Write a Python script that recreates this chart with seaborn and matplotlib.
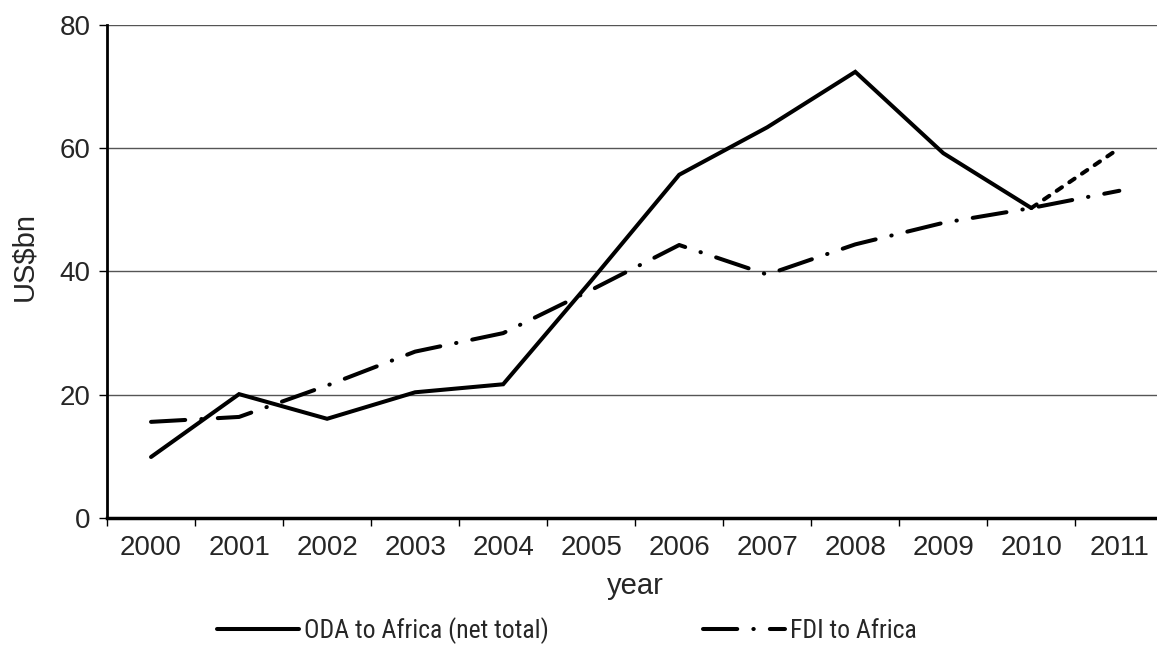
import pandas as pd
import matplotlib.pyplot as plt
import seaborn as sns
from matplotlib import font_manager

# data
years = ["2000", "2001", "2002", "2003", "2004", "2005",
         "2006", "2007", "2008", "2009", "2010", "2011"]
oda = [9.9, 20.1, 16.1, 20.4, 21.7, 38.5, 55.7, 63.4, 72.4, 59.2, 50.3, 60.0]
fdi = [15.6, 16.4, 21.5, 27.0, 30.0, 37.0, 44.3, 39.5, 44.4, 47.9, 50.3, 53.1]

sns.set_style("white")
plt.rcParams["font.family"] = ["Liberation Sans", "DejaVu Sans"]
plt.rcParams["font.size"] = 20

# legend in the original uses a narrow font, pick a plain upright one if there is one
def plain(f):
    return f.style == "normal" and f.weight in (400, "normal", "regular")

leg_font = None
for name in ("Liberation Sans Narrow", "Roboto Condensed", "Open Sans Condensed"):
    for f in font_manager.fontManager.ttflist:
        if f.name == name and plain(f):
            leg_font = font_manager.FontProperties(fname=f.fname, size=18.5)
            break
    if leg_font is not None:
        break
if leg_font is None:
    leg_font = font_manager.FontProperties(family="Liberation Sans", size=16.5)

df = pd.DataFrame({"year": years, "oda": oda, "fdi": fdi})

fig = plt.figure(figsize=(11.57, 6.51), dpi=100)
ax = fig.add_axes([0.0925, 0.2043, 0.913, 0.7573])

lw = 2.9
# ODA solid up to 2010, dashed last segment
sns.lineplot(x="year", y="oda", data=df.iloc[:11], ax=ax, color="black",
             lw=lw, label="ODA to Africa (net total)", sort=False)
sns.lineplot(x="year", y="oda", data=df.iloc[10:], ax=ax, color="black",
             lw=lw, sort=False, legend=False)
ax.lines[1].set_dashes((1.6, 2.2))
sns.lineplot(x="year", y="fdi", data=df, ax=ax, color="black",
             lw=lw, label="FDI to Africa", sort=False)
ax.lines[2].set_dashes((8.5, 4, 0.1, 4))
for ln in ax.lines:
    ln.set_dash_capstyle("round")
    ln.set_solid_capstyle("round")
    ln.set_solid_joinstyle("miter")

ax.set_xlim(-0.5, 11.5)
ax.set_ylim(0, 80)
ax.set_yticks([0, 20, 40, 60, 80])
ax.yaxis.grid(True, color="#555555", lw=1)
ax.set_axisbelow(True)

# ticks between categories like the original
ax.set_xticks([i + 0.5 for i in range(-1, 12)], minor=True)
ax.tick_params(axis="x", which="major", length=0, pad=12)
ax.tick_params(axis="x", which="minor", length=6, width=1, color="black", direction="out")
ax.tick_params(axis="y", length=6, width=1, color="black", direction="out", pad=6)
ax.xaxis.set_ticks_position("bottom")
ax.yaxis.set_ticks_position("left")

sns.despine(ax=ax, top=True, right=True)
ax.spines["left"].set_linewidth(2)
ax.spines["bottom"].set_linewidth(2.5)
ax.spines["left"].set_color("black")
ax.spines["bottom"].set_color("black")

ax.set_xlabel("year", fontsize=21, labelpad=8)
ax.set_ylabel("US$bn", fontsize=21, labelpad=10)
ax.yaxis.set_label_coords(-0.065, 0.53)

ax.get_legend().remove()
h, l = ax.get_legend_handles_labels()
fig.legend(h, l, loc="center", bbox_to_anchor=(0.49, 0.032), ncol=2,
           frameon=False, handlelength=3.2, columnspacing=6, handletextpad=0.2,
           prop=leg_font)

plt.savefig("out.png", dpi=100)
